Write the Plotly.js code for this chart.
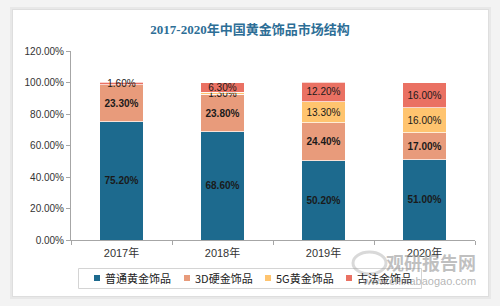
<!DOCTYPE html>
<html>
<head>
<meta charset="utf-8">
<script src="https://cdn.plot.ly/plotly-3.0.1.min.js"></script>
<style>
  html, body { margin: 0; padding: 0; background: #f3f3f3; }
  #chart { width: 500px; height: 306px; }
</style>
</head>
<body>
<div id="chart"></div>
<script>
// Market structure of gold jewellery in China, share by product type (%)
const years = ['2017年', '2018年', '2019年', '2020年'];
const seriesNames = ['普通黄金饰品', '3D硬金饰品', '5G黄金饰品', '古法金饰品'];
const ordinaryGold = [75.2, 68.6, 50.2, 51.0];
const hardGold3D = [23.3, 23.8, 24.4, 17.0];
const gold5G = [0, 1.3, 13.3, 16.0];
const ancientGold = [1.6, 6.3, 12.2, 16.0];
const yTicks = [0, 20, 40, 60, 80, 100, 120];

const seriesValues = [ordinaryGold, hardGold3D, gold5G, ancientGold];
const colors = ['#1d6a8e', '#e89b7b', '#ffc46f', '#ea7163'];
const labelWeights = ['bold', 'bold', 'normal', 'normal'];

const label = v => (v > 0 ? v.toFixed(2) + '%' : '');

const traces = seriesValues.map((vals, i) => ({
  type: 'bar',
  name: seriesNames[i],
  x: years,
  y: vals,
  text: vals.map(label),
  textposition: 'inside',
  insidetextanchor: 'middle',
  textangle: 0,
  constraintext: 'none',
  textfont: { family: 'Liberation Sans, Arial, sans-serif', size: 10, color: '#1a1a1a', weight: labelWeights[i] },
  marker: { color: colors[i], line: { color: '#ffffff', width: 0.7 } },
  width: 0.43,
  showlegend: false,
  hoverinfo: 'skip'
}));

// diagonal hatching for the plotting area
const hatch = 'data:image/svg+xml;utf8,' + encodeURIComponent(
  '<svg xmlns="http://www.w3.org/2000/svg" width="404" height="189">' +
  '<defs><pattern id="p" width="4" height="4" patternUnits="userSpaceOnUse">' +
  '<rect width="4" height="4" fill="#ffffff"/>' +
  '<path d="M-1,-1 L5,5 M-1,3 L1,5 M3,-1 L5,1" stroke="#dcdcdc" stroke-width="0.8"/>' +
  '</pattern></defs><rect width="404" height="189" fill="url(#p)"/></svg>');

// pixel -> paper helpers for the plotting area (l=71, width 404, bottom 240, height 189)
const px = x => (x - 71) / 404;
const py = y => (240 - y) / 189;

const shapes = [
  { type: 'rect', xref: 'paper', yref: 'paper', layer: 'below',
    x0: px(10), x1: px(491), y0: py(299), y1: py(7),
    fillcolor: '#e8e8e8', line: { width: 0 } },
  { type: 'rect', xref: 'paper', yref: 'paper', layer: 'below',
    x0: px(12), x1: px(489), y0: py(297), y1: py(9),
    fillcolor: '#dedede', line: { width: 0 } },
  { type: 'rect', xref: 'paper', yref: 'paper', layer: 'below',
    x0: px(13), x1: px(488), y0: py(296), y1: py(10),
    fillcolor: '#ffffff', line: { width: 0 } },
  // legend frame
  { type: 'rect', xref: 'paper', yref: 'paper', layer: 'above',
    x0: px(78.5), x1: px(421.5), y0: py(288.5), y1: py(268.5),
    fillcolor: 'rgba(0,0,0,0)', line: { color: '#d4d4d4', width: 1 } }
];

const annotations = [];

// legend entries: small colour square followed by the series name
const legendMarkX = [97, 187, 268, 349];
const legendY = 278;
seriesNames.forEach((name, i) => {
  const mx = legendMarkX[i];
  shapes.push({ type: 'rect', xref: 'paper', yref: 'paper', layer: 'above',
    x0: px(mx - 3), x1: px(mx + 3), y0: py(legendY + 3), y1: py(legendY - 3),
    fillcolor: colors[i], line: { width: 0 } });
  annotations.push({ text: name, xref: 'paper', yref: 'paper',
    x: px(mx + 6), y: py(legendY), xanchor: 'left', yanchor: 'middle', showarrow: false,
    font: { family: 'Noto Sans CJK SC, sans-serif', size: 11, color: '#222222' } });
});

// site watermark
annotations.push(
  { text: '<b>观研报告网</b>', xref: 'paper', yref: 'paper',
    x: px(478), y: py(262), xanchor: 'right', yanchor: 'middle', showarrow: false,
    font: { family: 'Noto Sans CJK SC, sans-serif', size: 18, color: 'rgba(150,150,150,0.6)' } },
  { text: 'www.chinabaogao.com', xref: 'paper', yref: 'paper',
    x: px(478), y: py(281), xanchor: 'right', yanchor: 'middle', showarrow: false,
    font: { family: 'Liberation Sans, Arial, sans-serif', size: 11, color: 'rgba(140,140,140,0.65)' } }
);
shapes.push({ type: 'circle', xref: 'paper', yref: 'paper', layer: 'above',
  x0: px(353), x1: px(386), y0: py(274), y1: py(252),
  fillcolor: 'rgba(0,0,0,0)', line: { color: 'rgba(160,160,160,0.4)', width: 3 } });

const layout = {
  width: 500,
  height: 306,
  margin: { l: 71, r: 25, t: 51, b: 66 },
  paper_bgcolor: '#f3f3f3',
  plot_bgcolor: 'rgba(0,0,0,0)',
  barmode: 'stack',
  showlegend: false,
  title: {
    text: '<b>2017-2020年中国黄金饰品市场结构</b>',
    font: { family: 'Liberation Serif, Noto Sans CJK SC, serif', size: 13, color: '#2d6e96' },
    x: 0.5, xanchor: 'center', y: 0.905, yanchor: 'middle'
  },
  xaxis: {
    type: 'category',
    showgrid: false,
    showline: true,
    linecolor: '#a6a6a6',
    linewidth: 1,
    ticks: 'outside',
    tickson: 'boundaries',
    ticklen: 4,
    tickcolor: '#a6a6a6',
    ticklabelstandoff: 3,
    tickfont: { family: 'Liberation Sans, Noto Sans CJK SC, sans-serif', size: 11, color: '#333333' },
    fixedrange: true
  },
  yaxis: {
    range: [0, 120],
    tickvals: yTicks,
    ticktext: yTicks.map(v => v.toFixed(2) + '%'),
    showgrid: false,
    zeroline: false,
    showline: true,
    linecolor: '#a6a6a6',
    linewidth: 1,
    ticks: 'outside',
    ticklen: 4,
    tickcolor: '#a6a6a6',
    tickfont: { family: 'Liberation Sans, Arial, sans-serif', size: 10, color: '#333333' },
    fixedrange: true
  },
  images: [{
    source: hatch, xref: 'paper', yref: 'paper',
    x: 0, y: 1, sizex: 1, sizey: 1,
    xanchor: 'left', yanchor: 'top', sizing: 'stretch', layer: 'below'
  }],
  shapes: shapes,
  annotations: annotations
};

Plotly.newPlot('chart', traces, layout, { displayModeBar: false, staticPlot: true });
</script>
</body>
</html>
